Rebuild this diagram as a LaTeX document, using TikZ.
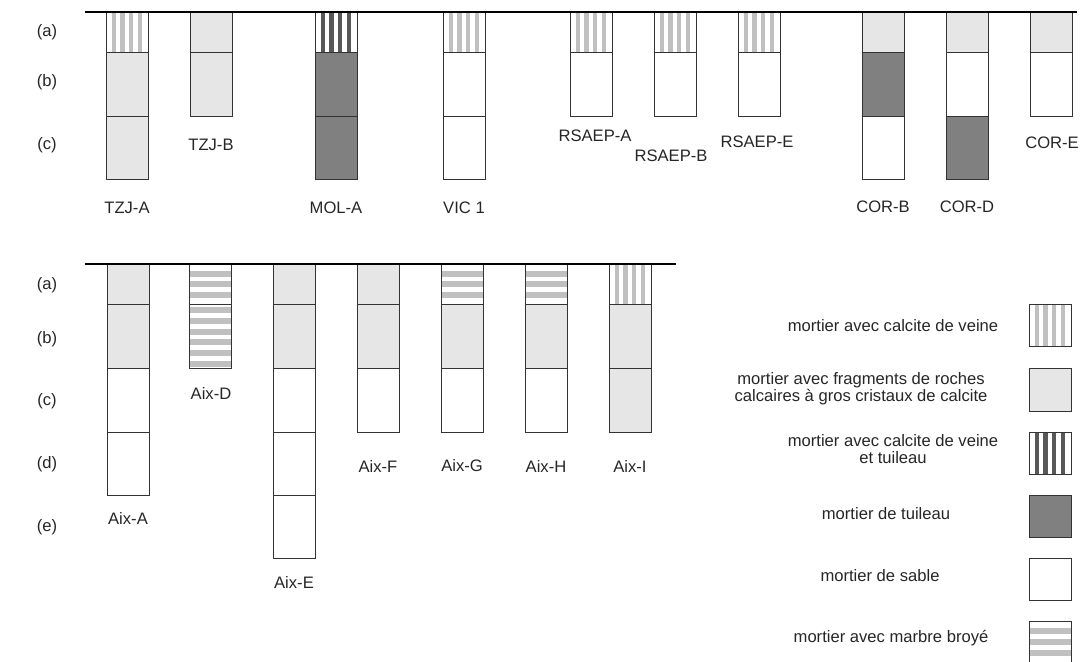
\documentclass[tikz,border=0pt]{standalone}
\usepackage{fontspec}
\setmainfont{Liberation Sans}
\usetikzlibrary{calc}
\definecolor{calcaire}{HTML}{E6E6E6}
\definecolor{tuileau}{HTML}{808080}
\definecolor{veine}{HTML}{C0C0C0}
\definecolor{veinetuile}{HTML}{585858}
\definecolor{marbre}{HTML}{C0C0C0}
\definecolor{bord}{HTML}{333333}

\tikzset{
  cell/.style={draw=bord, line width=0.5pt},
  lab/.style={font=\fontsize{8.3}{8.6}\selectfont, text=black!85, inner sep=0pt, align=center},
  surface/.style={line width=1pt, black}
}

% vertical stripes: x, top, bottom, colour
\newcommand{\vcell}[4]{%
  \fill[white] (#1,#2) rectangle (#1+42,#3);
  \foreach \s in {5.7,14.3,23,31.7}
    \fill[#4] (#1+\s,#2) rectangle (#1+\s+4.3,#3);
  \draw[cell] (#1,#2) rectangle (#1+42,#3);
}
% horizontal stripes (marbre broye): x, top, bottom
\newcommand{\hcell}[3]{%
  \fill[white] (#1,#2) rectangle (#1+42,#3);
  \pgfmathtruncatemacro\nb{((#3)-(#2)+0.67)/10.67}
  \pgfmathsetmacro\mg{((#3)-(#2)-\nb*10.67+4.67)/2}
  \foreach \k in {1,...,\nb}
    \fill[marbre] (#1,#2+\mg+\k*10.67-10.67) rectangle (#1+42,#2+\mg+\k*10.67-4.67);
  \draw[cell] (#1,#2) rectangle (#1+42,#3);
}

\begin{document}
\begin{tikzpicture}[x=0.5pt, y=-0.5pt]
  \useasboundingbox (0,0) rectangle (1086,662);

  % Top row
  \vcell{106}{12}{53}{veine}
  \draw[cell, fill=calcaire] (106,53) rectangle (148,117);
  \draw[cell, fill=calcaire] (106,117) rectangle (148,180);

  \draw[cell, fill=calcaire] (190,12) rectangle (232,53);
  \draw[cell, fill=calcaire] (190,53) rectangle (232,117);

  \vcell{315}{12}{53}{veinetuile}
  \draw[cell, fill=tuileau] (315,53) rectangle (357,117);
  \draw[cell, fill=tuileau] (315,117) rectangle (357,180);

  \vcell{443}{12}{53}{veine}
  \draw[cell, fill=white] (443,53) rectangle (485,117);
  \draw[cell, fill=white] (443,117) rectangle (485,180);

  \vcell{570}{12}{53}{veine}
  \draw[cell, fill=white] (570,53) rectangle (612,117);
  \vcell{654}{12}{53}{veine}
  \draw[cell, fill=white] (654,53) rectangle (696,117);
  \vcell{738}{12}{53}{veine}
  \draw[cell, fill=white] (738,53) rectangle (780,117);

  \draw[cell, fill=calcaire] (862,12) rectangle (904,53);
  \draw[cell, fill=tuileau] (862,53) rectangle (904,117);
  \draw[cell, fill=white] (862,117) rectangle (904,180);

  \draw[cell, fill=calcaire] (946,12) rectangle (988,53);
  \draw[cell, fill=white] (946,53) rectangle (988,117);
  \draw[cell, fill=tuileau] (946,117) rectangle (988,180);

  \draw[cell, fill=calcaire] (1030,12) rectangle (1072,53);
  \draw[cell, fill=white] (1030,53) rectangle (1072,117);

  \draw[surface] (85,12) -- (1077,12);

  \node[lab] (ra1) at (47,32) {(a)};
  \node[lab] (rb1) at (47,82) {(b)};
  \node[lab] (rc1) at (47,145) {(c)};

  \node[lab] (tzja) at (127,208) {TZJ-A};
  \node[lab] (tzjb) at (211,145) {TZJ-B};
  \node[lab] (mola) at (336,208) {MOL-A};
  \node[lab] (vic1) at (464,208) {VIC 1};
  \node[lab] (rsaepa) at (595,136) {RSAEP-A};
  \node[lab] (rsaepb) at (671,156) {RSAEP-B};
  \node[lab] (rsaepe) at (757,142) {RSAEP-E};
  \node[lab] (corb) at (883,207) {COR-B};
  \node[lab] (cord) at (967,207) {COR-D};
  \node[lab] (core) at (1052,143) {COR-E};

  % Bottom row
  \draw[cell, fill=calcaire] (107,264) rectangle (149,305);
  \draw[cell, fill=calcaire] (107,305) rectangle (149,369);
  \draw[cell, fill=white] (107,369) rectangle (149,432);
  \draw[cell, fill=white] (107,432) rectangle (149,495);

  \hcell{189}{264}{305}
  \hcell{189}{305}{369}

  \draw[cell, fill=calcaire] (273,264) rectangle (315,305);
  \draw[cell, fill=calcaire] (273,305) rectangle (315,369);
  \draw[cell, fill=white] (273,369) rectangle (315,432);
  \draw[cell, fill=white] (273,432) rectangle (315,495);
  \draw[cell, fill=white] (273,495) rectangle (315,558);

  \draw[cell, fill=calcaire] (357,264) rectangle (399,305);
  \draw[cell, fill=calcaire] (357,305) rectangle (399,369);
  \draw[cell, fill=white] (357,369) rectangle (399,432);

  \hcell{441}{264}{305}
  \draw[cell, fill=calcaire] (441,305) rectangle (483,369);
  \draw[cell, fill=white] (441,369) rectangle (483,432);

  \hcell{525}{264}{305}
  \draw[cell, fill=calcaire] (525,305) rectangle (567,369);
  \draw[cell, fill=white] (525,369) rectangle (567,432);

  \vcell{609}{264}{305}{veine}
  \draw[cell, fill=calcaire] (609,305) rectangle (651,369);
  \draw[cell, fill=calcaire] (609,369) rectangle (651,432);

  \draw[surface] (85,264) -- (676,264);

  \node[lab] (ra2) at (47,285) {(a)};
  \node[lab] (rb2) at (47,339) {(b)};
  \node[lab] (rc2) at (47,401) {(c)};
  \node[lab] (rd2) at (47,464) {(d)};
  \node[lab] (re2) at (47,527) {(e)};

  \node[lab] (aixa) at (128,518) {Aix-A};
  \node[lab] (aixd) at (211,393) {Aix-D};
  \node[lab] (aixe) at (294,582) {Aix-E};
  \node[lab] (aixf) at (378,466) {Aix-F};
  \node[lab] (aixg) at (462,466) {Aix-G};
  \node[lab] (aixh) at (546,466) {Aix-H};
  \node[lab] (aixi) at (630,466) {Aix-I};

  % Legend
  \vcell{1029}{305}{347}{veine}
  \draw[cell, fill=calcaire] (1029,369) rectangle (1071,411);
  \vcell{1029}{432}{474}{veinetuile}
  \draw[cell, fill=tuileau] (1029,495) rectangle (1071,537);
  \draw[cell, fill=white] (1029,558) rectangle (1071,600);
  \hcell{1029}{621}{663}

  \node[lab] (lg1) at (893,326) {mortier avec calcite de veine};
  \node[lab] (lg2) at (861,389) {mortier avec fragments de roches\\calcaires à gros cristaux de calcite};
  \node[lab] (lg3) at (893,449) {mortier avec calcite de veine\\et tuileau};
  \node[lab] (lg4) at (886,514) {mortier de tuileau};
  \node[lab] (lg5) at (880,576) {mortier de sable};
  \node[lab] (lg6) at (891,638) {mortier avec marbre broyé};
\end{tikzpicture}
\end{document}
